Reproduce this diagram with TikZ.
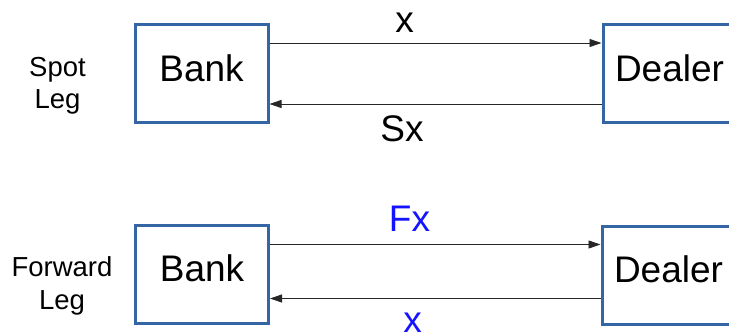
\documentclass[tikz,border=0pt]{standalone}
\usepackage{fontspec}
\setmainfont{Liberation Sans}
\usetikzlibrary{arrows.meta}
\definecolor{boxblue}{RGB}{52,101,164}
\definecolor{flowblue}{RGB}{20,20,255}
\begin{document}
\begin{tikzpicture}[x=1pt,y=-1pt,
  party/.style={draw=boxblue,line width=3pt,minimum width=133pt,minimum height=98pt,
    inner sep=0pt,text depth=11pt,font=\fontsize{37}{40}\selectfont},
  flow/.style={line width=0.9pt,draw=black!85,-{Triangle[length=12pt,width=8pt]}},
  amount/.style={anchor=base,font=\fontsize{37}{40}\selectfont},
  leg/.style={anchor=base,align=center,font=\fontsize{27.5}{32.5}\selectfont}]
\useasboundingbox (0,0) rectangle (729,335);
\clip (0,0) rectangle (729,335);

% spot leg
\node[party] (bank1) at (201.5,73.5) {Bank};
\node[party] (dealer1) at (669.5,73.5) {Dealer};
\draw[flow] ([yshift=30.5pt]bank1.east) -- ([yshift=30.5pt]dealer1.west);
\draw[flow] ([yshift=-30.5pt]dealer1.west) -- ([yshift=-30.5pt]bank1.east);
\node[amount] (x1) at (404.5,32) {x};
\node[amount] (sx) at (402,141) {Sx};
\node[leg] (spot) at (57.5,108.5) {Spot\\Leg};

% forward leg
\node[party] (bank2) at (202,274) {Bank};
\node[party] (dealer2) at (668.5,275) {Dealer};
\draw[flow] (bank2.east |- 0,244.5) -- (dealer2.west |- 0,244.5);
\draw[flow] (dealer2.west |- 0,298.5) -- (bank2.east |- 0,298.5);
\node[amount,text=flowblue] (fx) at (409.5,231) {Fx};
\node[amount,text=flowblue] (x2) at (412.5,332.5) {x};
\node[leg] (fwd) at (62,309) {Forward\\Leg};
\end{tikzpicture}
\end{document}
